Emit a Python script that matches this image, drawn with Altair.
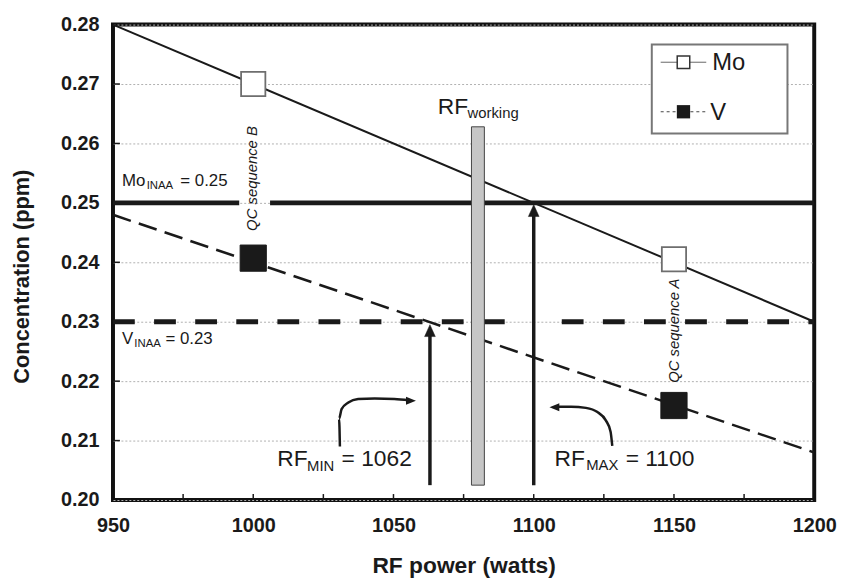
import altair as alt
import pandas as pd

FONT = "Liberation Sans, Arial, Helvetica, sans-serif"
INK = "#1a1a1a"

# ---------------- data ----------------
# fitted response lines
mo_line_x = [950, 1200]
mo_line_y = [0.280, 0.230]
v_line_x = [950, 1200]
v_line_y = [0.248, 0.208]
# QC points
qc_x = [1000, 1150]
mo_qc_y = [0.2700, 0.2405]
v_qc_y = [0.2407, 0.2159]
# INAA reference values (drawn as interrupted lines)
mo_inaa = 0.25
mo_inaa_from = [950, 1006]
mo_inaa_to = [995, 1200]
v_inaa = 0.23
v_inaa_from = [950, 1110]
v_inaa_to = [1090, 1200]
# working window
rf_min_x = 1063
rf_max_x = 1100
arrow_base = 0.2025
arrow_tips = [0.2295, 0.2497]
arrow_line_ends = [0.2282, 0.2484]
work_x1, work_x2 = 1077.8, 1082.4
work_y1, work_y2 = 0.2025, 0.2628
# curved pointer arrows
min_curve_x = [1030.9, 1030.6, 1031.5, 1033.9, 1037.4, 1043.3, 1050.3, 1055.5]
min_curve_y = [0.2090, 0.2137, 0.2153, 0.2164, 0.2170, 0.2171, 0.2170, 0.2168]
max_curve_x = [1128.0, 1127.4, 1125.7, 1122.7, 1118.6, 1113.3, 1108.6, 1108.0]
max_curve_y = [0.2091, 0.2115, 0.2134, 0.2148, 0.2155, 0.2157, 0.2157, 0.2157]
curve_tip_x = [1058.0, 1105.6]
curve_tip_y = [0.2167, 0.2156]
# axis ticks
x_labels = [950, 1000, 1050, 1100, 1150, 1200]
x_minor = [975, 1000, 1025, 1050, 1075, 1100, 1125, 1150, 1175]
y_labels = [0.20, 0.21, 0.22, 0.23, 0.24, 0.25, 0.26, 0.27, 0.28]
y_minor = [0.21, 0.22, 0.23, 0.24, 0.25, 0.26, 0.27]
# annotation texts (big, subscript)
big_text = ["RF", "RF", "= 1062", "RF", "= 1100"]
big_x = [1065.8, 1008.6, 1031.5, 1107.4, 1132.8]
big_y = [0.2650, 0.2057, 0.2057, 0.2057, 0.2057]
sub_big_text = ["working", "MIN", "MAX"]
sub_big_x = [1076.4, 1019.2, 1118.7]
sub_big_y = [0.2643, 0.2049, 0.2050]
mid_text = ["Mo", "= 0.25", "V", "= 0.23"]
mid_x = [953.2, 974.0, 953.2, 968.7]
mid_y = [0.2528, 0.2528, 0.2263, 0.2263]
sub_mid_text = ["INAA", "INAA"]
sub_mid_x = [962.0, 957.6]
sub_mid_y = [0.2523, 0.2257]
qc_text = ["QC sequence B", "QC sequence A"]
qc_text_x = [999.4, 1150.1]
qc_text_y = [0.2541, 0.2285]

XS = alt.Scale(domain=[950, 1200], nice=False, zero=False)
YS = alt.Scale(domain=[0.20, 0.28], nice=False, zero=False)

XAXIS = alt.Axis(values=x_labels, format="d", title="RF power (watts)", ticks=False,
                 domain=False, grid=False, labelPadding=16, labelFlush=False,
                 labelFont=FONT, labelFontSize=20, labelFontWeight="bold", labelColor=INK,
                 titleFont=FONT, titleFontSize=23, titleFontWeight="bold", titleColor=INK,
                 titleX=354, titleY=66, titleBaseline="middle", titleAlign="center")
YAXIS = alt.Axis(values=y_labels, format=".2f", title="Concentration (ppm)", ticks=False,
                 domain=False, grid=True, gridColor="#b0b0b0", gridDash=[2, 2], gridWidth=1,
                 labelPadding=14, labelFlush=False, labelFont=FONT, labelFontSize=20,
                 labelFontWeight="bold", labelColor=INK, titleFont=FONT, titleFontSize=22,
                 titleFontWeight="bold", titleColor=INK, titleX=-92, titleY=254,
                 titleBaseline="middle", titleAlign="center", titleAngle=270)


def X(f):
    return alt.X(f, type="quantitative", scale=XS, axis=XAXIS)


def Y(f):
    return alt.Y(f, type="quantitative", scale=YS, axis=YAXIS)


one = alt.Data(values=[{}])

# base layer carries the axes
lines_df = pd.DataFrame({"x": mo_line_x + v_line_x, "y": mo_line_y + v_line_y,
                         "s": ["Mo", "Mo", "V", "V"]})
mo_line = alt.Chart(lines_df[lines_df.s == "Mo"]).mark_line(
    color=INK, strokeWidth=2).encode(x=X("x"), y=Y("y"))
v_line = alt.Chart(lines_df[lines_df.s == "V"]).mark_line(
    color=INK, strokeWidth=2.5, strokeDash=[19, 8.5]).encode(x=X("x"), y=Y("y"))

mo_inaa_df = pd.DataFrame({"x": mo_inaa_from, "x2": mo_inaa_to, "y": [mo_inaa] * 2})
mo_inaa_l = alt.Chart(mo_inaa_df).mark_rule(color=INK, strokeWidth=5, strokeCap="butt").encode(
    x=X("x"), x2="x2", y=Y("y"))
v_inaa_df = pd.DataFrame({"x": v_inaa_from, "x2": v_inaa_to, "y": [v_inaa] * 2})
v_inaa_l = alt.Chart(v_inaa_df).mark_rule(color=INK, strokeWidth=5, strokeCap="butt",
                                          strokeDash=[22, 19.5]).encode(
    x=X("x"), x2="x2", y=Y("y"))

# manual inward ticks
xt = alt.Chart(pd.DataFrame({"x": x_minor})).mark_rule(color=INK, strokeWidth=1.5).encode(
    x=X("x"), y=alt.value(480), y2=alt.value(474))
yt = alt.Chart(pd.DataFrame({"y": y_minor})).mark_rule(color=INK, strokeWidth=1.5).encode(
    y=Y("y"), x=alt.value(0), x2=alt.value(7))

# vertical arrows
arr_df = pd.DataFrame({"x": [rf_min_x, rf_max_x], "y": [arrow_base] * 2,
                       "y2": arrow_line_ends, "tip": arrow_tips})
arr_lines = alt.Chart(arr_df).mark_rule(color=INK, strokeWidth=3.5, strokeCap="butt").encode(
    x=X("x"), y=Y("y"), y2="y2")
arr_heads = alt.Chart(arr_df).mark_point(
    shape="M0,0L0.45,1L-0.45,1Z", filled=True, fill=INK, stroke=INK, strokeWidth=0.5,
    size=576, opacity=1).encode(x=X("x"), y=Y("tip"))

# curved pointers
min_c = alt.Chart(pd.DataFrame({"x": min_curve_x, "y": min_curve_y,
                                "o": list(range(len(min_curve_x)))})).mark_line(
    color=INK, strokeWidth=2.5, interpolate="monotone").encode(x=X("x"), y=Y("y"), order="o:Q")
max_c = alt.Chart(pd.DataFrame({"x": max_curve_x, "y": max_curve_y,
                                "o": list(range(len(max_curve_x)))})).mark_line(
    color=INK, strokeWidth=2.5, interpolate="monotone").encode(x=X("x"), y=Y("y"), order="o:Q")
tip_r = alt.Chart(pd.DataFrame({"x": curve_tip_x[:1], "y": curve_tip_y[:1]})).mark_point(
    shape="M0,0L-1,-0.4L-1,0.4Z", filled=True, fill=INK, size=400, opacity=1).encode(
    x=X("x"), y=Y("y"))
tip_l = alt.Chart(pd.DataFrame({"x": curve_tip_x[1:], "y": curve_tip_y[1:]})).mark_point(
    shape="M0,0L1,-0.4L1,0.4Z", filled=True, fill=INK, size=400, opacity=1).encode(
    x=X("x"), y=Y("y"))

# working bar
bar = alt.Chart(pd.DataFrame({"x": [work_x1], "x2": [work_x2], "y": [work_y1],
                              "y2": [work_y2]})).mark_rect(
    fill="#c6c6c6", stroke="#444", strokeWidth=1).encode(x=X("x"), x2="x2", y=Y("y"), y2="y2")

# QC markers
mo_pts = alt.Chart(pd.DataFrame({"x": qc_x, "y": mo_qc_y})).mark_point(
    shape="square", filled=True, fill="white", stroke="#6e6e6e", strokeWidth=1.8,
    size=600, opacity=1).encode(x=X("x"), y=Y("y"))
v_pts = alt.Chart(pd.DataFrame({"x": qc_x, "y": v_qc_y})).mark_point(
    shape="square", filled=True, fill=INK, stroke=INK, strokeWidth=1,
    size=700, opacity=1).encode(x=X("x"), y=Y("y"))


def txt(xs, ys, labels, size, **kw):
    df = pd.DataFrame({"x": xs, "y": ys, "t": labels})
    opts = dict(font=FONT, fontSize=size, color=INK, align="left", baseline="alphabetic")
    opts.update(kw)
    return alt.Chart(df).mark_text(**opts).encode(x=X("x"), y=Y("y"), text="t:N")


t_big = txt(big_x, big_y, big_text, 23)
t_sub_big = txt(sub_big_x, sub_big_y, sub_big_text, 15)
t_mid = txt(mid_x, mid_y, mid_text, 17)
t_sub_mid = txt(sub_mid_x, sub_mid_y, sub_mid_text, 11.5)
t_qc = txt(qc_text_x, qc_text_y, qc_text, 15, align="center", baseline="middle",
           angle=270, fontStyle="italic")

# legend box
leg_box = alt.Chart(one).mark_rect(fill="white", stroke="#777", strokeWidth=2).encode(
    x=alt.value(544), x2=alt.value(681), y=alt.value(20), y2=alt.value(110))
leg_mo_line = alt.Chart(one).mark_rule(color="#666", strokeWidth=1).encode(
    x=alt.value(553), x2=alt.value(599), y=alt.value(38))
leg_v_line = alt.Chart(one).mark_rule(color="#444", strokeWidth=1, strokeDash=[3, 3]).encode(
    x=alt.value(553), x2=alt.value(599), y=alt.value(88))
leg_mo_pt = alt.Chart(one).mark_point(shape="square", filled=True, fill="white", stroke="#333",
                                      strokeWidth=1.5, size=160, opacity=1).encode(
    x=alt.value(576), y=alt.value(38))
leg_v_pt = alt.Chart(one).mark_point(shape="square", filled=True, fill=INK, size=180,
                                     opacity=1).encode(x=alt.value(576), y=alt.value(88))
leg_mo_t = alt.Chart(one).mark_text(text="Mo", font=FONT, fontSize=24, color=INK, align="left",
                                    baseline="middle").encode(x=alt.value(605), y=alt.value(39))
leg_v_t = alt.Chart(one).mark_text(text="V", font=FONT, fontSize=24, color=INK, align="left",
                                   baseline="middle").encode(x=alt.value(603), y=alt.value(89))

chart = alt.layer(
    mo_line, xt, yt, v_line, mo_inaa_l, v_inaa_l, arr_lines, arr_heads, min_c, max_c,
    tip_r, tip_l, bar, mo_pts, v_pts, t_big, t_sub_big, t_mid, t_sub_mid, t_qc,
    leg_box, leg_mo_line, leg_v_line, leg_mo_pt, leg_v_pt, leg_mo_t, leg_v_t,
).properties(
    width=708, height=480,
    autosize=alt.AutoSizeParams(type="none"),
    padding={"left": 106, "top": 14, "right": 23, "bottom": 77},
    background="white",
).configure_view(stroke="#111", strokeWidth=4)

chart.save("out.html", embed_options={"renderer": "svg", "actions": False})
